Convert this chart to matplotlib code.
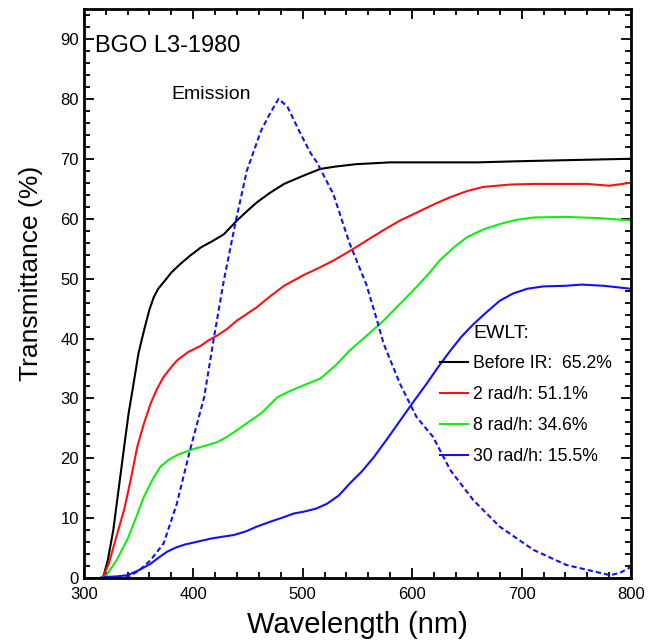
import matplotlib.pyplot as plt
from matplotlib.ticker import MultipleLocator

plt.rcParams['font.family'] = ['Liberation Sans', 'DejaVu Sans']

black_wl = [300, 315, 318, 322, 327, 332, 337, 341, 346, 350, 355, 360, 364, 368, 373, 380, 388, 397,
            407, 418, 428, 440, 450, 458, 470, 483, 501, 516, 530, 549, 580, 620, 660, 700, 750, 800]
black_t = [0, 0, 0.3, 3, 8, 15, 22, 27.5, 33, 37.5, 41.3, 44.8, 46.9, 48.3, 49.4, 51, 52.4, 53.8,
           55.2, 56.3, 57.4, 59.7, 61.4, 62.7, 64.3, 65.8, 67.2, 68.3, 68.7, 69.1, 69.4, 69.4, 69.4, 69.6, 69.8, 70]

red_wl = [300, 315, 318, 323, 330, 337, 343, 349, 355, 361, 367, 373, 379, 385, 395, 407, 414, 422,
          431, 440, 458, 470, 483, 501, 515, 528, 543, 558, 573, 589, 604, 620, 635, 650, 665, 690,
          711, 740, 760, 780, 800]
red_t = [0, 0, 0.3, 2.5, 7, 11.5, 16.5, 22, 25.8, 29.1, 31.6, 33.6, 35, 36.3, 37.7, 38.8, 39.7, 40.5,
         41.6, 43, 45.2, 47, 48.8, 50.6, 51.8, 53, 54.6, 56.3, 58, 59.7, 61, 62.4, 63.6, 64.6, 65.3, 65.7,
         65.8, 65.8, 65.8, 65.5, 66]

green_wl = [300, 315, 320, 330, 340, 348, 355, 363, 370, 378, 386, 393, 401, 411, 422, 431, 440, 450,
            462, 477, 488, 501, 516, 530, 543, 558, 574, 589, 604, 615, 625, 638, 650, 665, 680, 695,
            711, 740, 770, 800]
green_t = [0, 0, 0.3, 3, 6.5, 10.2, 13.6, 16.5, 18.6, 19.8, 20.6, 21.1, 21.6, 22.1, 22.7, 23.6, 24.7, 26,
           27.5, 30.2, 31.2, 32.2, 33.3, 35.5, 38, 40.4, 43, 45.8, 48.6, 50.8, 53, 55.2, 56.9, 58.2, 59.1, 59.8,
           60.2, 60.3, 60.1, 59.7]

blue_wl = [300, 315, 320, 330, 340, 350, 361, 369, 376, 384, 392, 404, 416, 426, 437, 448, 458, 470,
           483, 492, 501, 512, 522, 533, 543, 554, 565, 577, 589, 601, 613, 624, 635, 645, 656, 668,
           680, 692, 705, 720, 740, 755, 775, 790, 800]
blue_t = [0, 0, 0.2, 0.3, 0.5, 1.3, 2.4, 3.5, 4.4, 5.1, 5.6, 6.1, 6.6, 6.9, 7.2, 7.8, 8.6, 9.4,
          10.2, 10.8, 11.1, 11.6, 12.4, 13.8, 15.8, 17.8, 20.2, 23.2, 26.3, 29.4, 32.4, 35.3, 38, 40.3, 42.4, 44.4,
          46.3, 47.5, 48.3, 48.7, 48.8, 49, 48.8, 48.5, 48.3]

emis_wl = [300, 330, 340, 350, 361, 373, 385, 397, 410, 419, 428, 439, 449, 462, 470, 478, 486, 498,
           507, 513, 528, 543, 558, 568, 574, 589, 604, 619, 635, 656, 680, 711, 741, 762, 781, 790, 800]
emis_t = [0, 0, 0.2, 1.2, 3, 5.8, 12.4, 21.3, 30.2, 40.2, 49.7, 59.7, 68, 74.7, 77.5, 80, 78.7, 74.2,
          71, 69.4, 64.1, 55.8, 49.1, 43, 39.1, 32.4, 26.9, 23.6, 18, 13, 8.6, 4.7, 2.2, 1.3, 0.5, 0.9, 1.9]

labels = ['Before IR:  65.2%', '2 rad/h: 51.1%', '8 rad/h: 34.6%', '30 rad/h: 15.5%']

fig = plt.figure(figsize=(6.54, 6.41), dpi=100)
ax = fig.add_axes([0.128, 0.098, 0.837, 0.888])

ax.plot(black_wl, black_t, color='black', lw=1.5, label=labels[0])
ax.plot(red_wl, red_t, color='#ff1010', lw=1.5, label=labels[1])
ax.plot(green_wl, green_t, color='#10ee10', lw=1.5, label=labels[2])
ax.plot(blue_wl, blue_t, color='#1010ff', lw=1.5, label=labels[3])
ax.plot(emis_wl, emis_t, color='#1010ff', lw=1.5, ls=(0, (2.5, 1.5)))

ax.set_xlim(300, 800)
ax.set_ylim(0, 95)
ax.xaxis.set_major_locator(MultipleLocator(100))
ax.xaxis.set_minor_locator(MultipleLocator(20))
ax.yaxis.set_major_locator(MultipleLocator(10))
ax.yaxis.set_minor_locator(MultipleLocator(2))
ax.tick_params(which='both', direction='in', top=True, right=True, width=1.3, labelsize=12)
ax.tick_params(which='major', length=7)
ax.tick_params(which='minor', length=4)
ax.tick_params(axis='x', pad=6)
for s in ax.spines.values():
    s.set_linewidth(2)

ax.set_xlabel('Wavelength (nm)', fontsize=21, labelpad=7)
ax.set_ylabel('Transmittance (%)', fontsize=19)
ax.yaxis.set_label_coords(-0.075, 0.535)

ax.text(0.02, 0.935, 'BGO L3-1980', transform=ax.transAxes, fontsize=17, va='center')
ax.text(0.161, 0.85, 'Emission', transform=ax.transAxes, fontsize=14, va='center')
ax.text(0.711, 0.430, 'EWLT:', transform=ax.transAxes, fontsize=14, va='center')

ax.legend(loc='upper left', bbox_to_anchor=(0.651, 0.392), frameon=False,
          fontsize=12.7, handlelength=1.6, handletextpad=0.28,
          labelspacing=0.79, borderaxespad=0, borderpad=0)

fig.savefig('out.png', dpi=100)
